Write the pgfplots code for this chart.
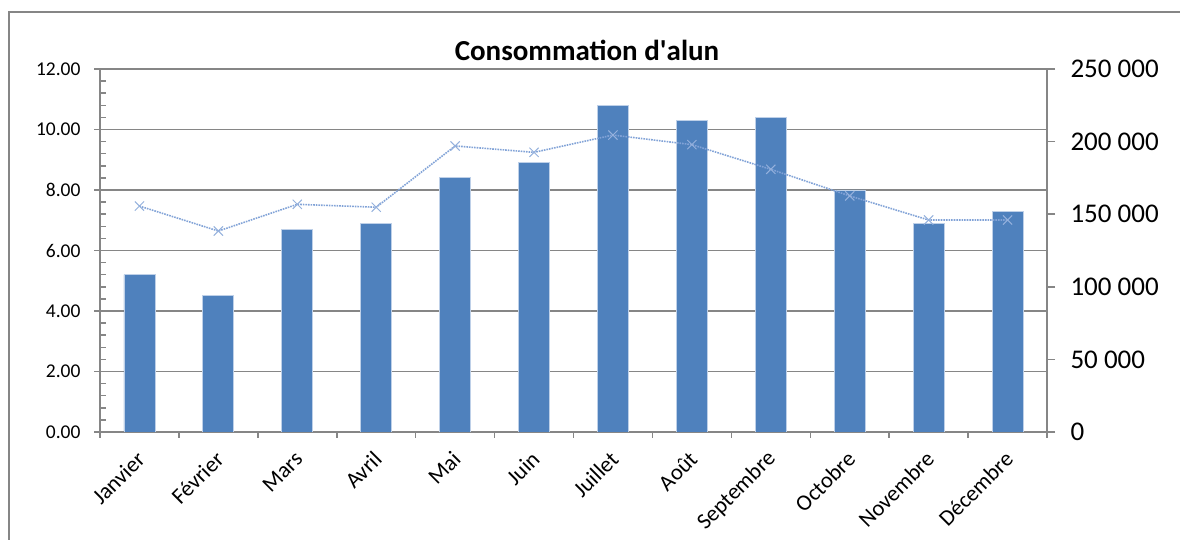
\documentclass[border=0pt]{standalone}
\usepackage{pgfplots}
\pgfplotsset{compat=1.18}
\usepackage{fontspec}
\setmainfont{Carlito}
\definecolor{barblue}{RGB}{79,129,189}
\definecolor{baredge}{RGB}{190,208,232}
\definecolor{linblue}{RGB}{130,163,215}
\definecolor{gridgray}{RGB}{134,134,134}

\pgfplotstableread{
x val
0 5.2
1 4.5
2 6.7
3 6.9
4 8.4
5 8.9
6 10.8
7 10.3
8 10.4
9 8.0
10 6.9
11 7.3
}\bars

\pgfplotstableread{
x val
0 155600
1 138400
2 156800
3 154800
4 197000
5 192600
6 204500
7 197900
8 180900
9 162600
10 146000
11 146000
}\line

\begin{document}
\begin{tikzpicture}[x=1pt,y=1pt]
\useasboundingbox (0,0) rectangle (1180,540);
\draw[gridgray, line width=1.5pt] (9,-10) -- (9,528) -- (1195,528);
\node[font=\bfseries\fontsize{29}{29}\selectfont] at (587,490) {Consommation d\textquotesingle alun};

\begin{axis}[
  at={(100pt,108pt)}, anchor=south west, scale only axis,
  width=947pt, height=363pt,
  xmin=-0.5, xmax=11.5, ymin=0, ymax=12,
  axis x line*=bottom, axis y line*=left,
  axis line style={gridgray, line width=1.5pt},
  xtick={0,...,11},
  xticklabels={Janvier,Février,Mars,Avril,Mai,Juin,Juillet,Août,Septembre,Octobre,Novembre,Décembre},
  major x tick style={draw=none},
  minor xtick={-0.5,0.5,...,11.5},
  minor x tick style={gridgray, line width=1.5pt},
  xticklabel style={xshift=4pt, yshift=-15pt, rotate=45, anchor=east, font=\fontsize{22.5}{22.5}\selectfont},
  ytick={0,2,...,12},
  yticklabels={0.00,2.00,4.00,6.00,8.00,10.00,12.00},
  minor y tick num=4,
  yticklabel style={font=\fontsize{19.5}{19.5}\selectfont, xshift=-10pt},
  tick align=outside,
  major tick length=6pt, minor tick length=6pt,
  major y tick style={gridgray, line width=1.5pt},
  minor y tick style={gridgray, line width=1.5pt, xshift=6pt},
  ymajorgrids, grid style={gridgray, line width=1.5pt},
  ybar, bar width=31pt,
]
\addplot[fill=barblue, draw=baredge, line width=0.8pt] table[x=x,y=val]{\bars};
\end{axis}

\begin{axis}[
  at={(100pt,108pt)}, anchor=south west, scale only axis,
  width=947pt, height=363pt,
  xmin=-0.5, xmax=11.5, ymin=0, ymax=250000,
  axis x line=none, axis y line*=right,
  axis line style={gridgray, line width=1.5pt},
  scaled y ticks=false,
  ytick={0,50000,100000,150000,200000,250000},
  yticklabels={0,50 000,100 000,150 000,200 000,250 000},
  yticklabel style={font=\fontsize{27}{27}\selectfont, anchor=west, xshift=12pt},
  tick align=outside, major tick length=8pt,
  major y tick style={gridgray, line width=1.5pt},
]
\addplot[linblue, densely dotted, line width=1.6pt, mark=x, mark size=6.5pt,
  mark options={solid, line width=1pt, draw=linblue!85}] table[x=x,y=val]{\line};
\end{axis}
\end{tikzpicture}
\end{document}
